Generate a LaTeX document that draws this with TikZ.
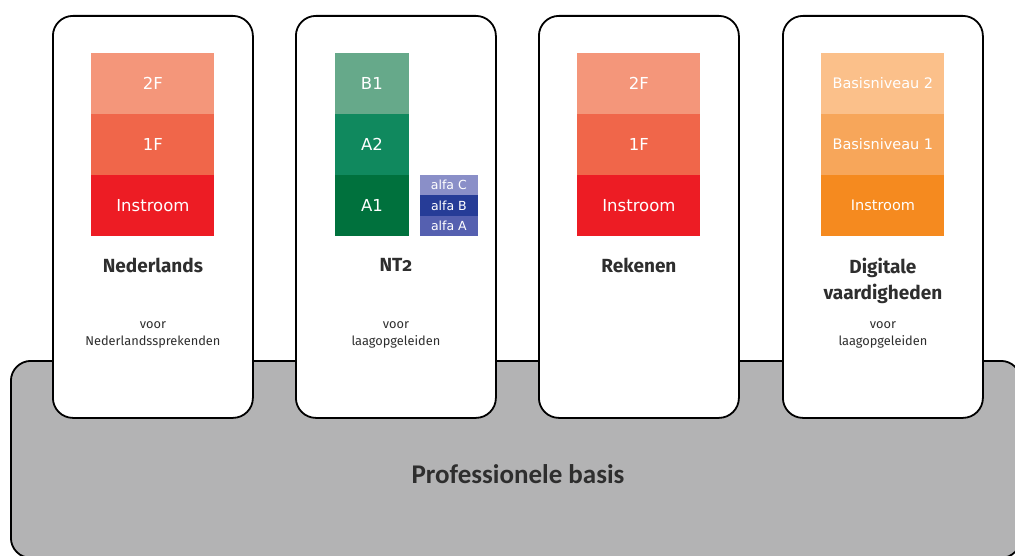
\documentclass[tikz,border=0pt]{standalone}
\usepackage{fontspec}
\usepackage{xcolor}
\setmainfont{Fira Sans}
\newfontfamily\levelfont{DejaVu Sans}
\newfontfamily\basefont{Carlito}
\usetikzlibrary{positioning}

\definecolor{base-gray}{HTML}{B3B3B4}
\definecolor{dark-text}{HTML}{2E2E2E}
\definecolor{red-top}{HTML}{F4967A}
\definecolor{red-mid}{HTML}{F0664A}
\definecolor{red-low}{HTML}{ED1C24}
\definecolor{green-top}{HTML}{66A98A}
\definecolor{green-mid}{HTML}{10895E}
\definecolor{green-low}{HTML}{00713D}
\definecolor{alfa-c}{HTML}{8A8FC8}
\definecolor{alfa-b}{HTML}{263C97}
\definecolor{alfa-a}{HTML}{5560B0}
\definecolor{orange-top}{HTML}{FBC08A}
\definecolor{orange-mid}{HTML}{F7A65A}
\definecolor{orange-low}{HTML}{F58A1F}

\tikzset{
    base-box/.style = {draw=black, fill=base-gray, line width=1.8pt, rounded corners=20pt, anchor=north west, minimum width=1010pt, minimum height=197pt, inner sep=0pt},
    base-title/.style = {font=\basefont\bfseries\fontsize{27}{27}\selectfont, text=dark-text},
    card-box/.style = {draw=black, fill=white, line width=1.8pt, rounded corners=20pt, anchor=north west, minimum width=200pt, minimum height=402pt, inner sep=0pt},
    level-box/.style = {minimum width=123pt, minimum height=61pt, inner sep=0pt, outer sep=0pt, text=white, font=\levelfont\fontsize{16.5}{16.5}\selectfont},
    green-box/.style = {level-box, minimum width=74pt},
    digi-box/.style = {level-box, font=\levelfont\fontsize{14.5}{14.5}\selectfont},
    alfa-box/.style = {minimum width=58pt, minimum height=20.33pt, inner sep=0pt, outer sep=0pt, text=white, font=\levelfont\fontsize{12.5}{12.5}\selectfont},
    card-title/.style = {font=\bfseries\fontsize{19}{26}\selectfont, text=dark-text, align=center, anchor=north, inner sep=0pt},
    card-note/.style = {font=\fontsize{12.8}{17}\selectfont, text=dark-text, align=center, anchor=north, inner sep=0pt},
}

\begin{document}
\begin{tikzpicture}[x=1pt, y=-1pt]
\useasboundingbox (0,0) rectangle (1015,556);

% professional base
\node [base-box] (base) at (10,360) {};
\node [base-title] (base-label) at (518,474) {Professionele basis};

% cards
\node [card-box] (nl-card) at (52,15) {};
\node [card-box] (nt-card) at (295,15) {};
\node [card-box] (rk-card) at (538,15) {};
\node [card-box] (dv-card) at (782,15) {};

% Nederlands
\node [level-box, fill=red-top, below=38pt of nl-card.north] (nl-2f) {2F};
\node [level-box, fill=red-mid, below=0pt of nl-2f] (nl-1f) {1F};
\node [level-box, fill=red-low, below=0pt of nl-1f] (nl-in) {Instroom};
\node [card-title, below=22pt of nl-in] (nl-title) {Nederlands};
\node [card-note, below=306pt of nl-card.north] (nl-note) {voor\\Nederlandssprekenden};

% NT2
\node [green-box, fill=green-top, below=38pt of nt-card.north, xshift=-24pt] (nt-b1) {B1};
\node [green-box, fill=green-mid, below=0pt of nt-b1] (nt-a2) {A2};
\node [green-box, fill=green-low, below=0pt of nt-a2] (nt-a1) {A1};
\node [alfa-box, fill=alfa-a, anchor=south west] (nt-alfa-a) at ([xshift=11pt]nt-a1.south east) {alfa A};
\node [alfa-box, fill=alfa-b, above=0pt of nt-alfa-a] (nt-alfa-b) {alfa B};
\node [alfa-box, fill=alfa-c, above=0pt of nt-alfa-b] (nt-alfa-c) {alfa C};
\node [card-title, below=22pt of nt-card.north |- nt-a1.south] (nt-title) {NT{\addfontfeatures{Numbers=OldStyle}2}};
\node [card-note, below=306pt of nt-card.north] (nt-note) {voor\\laagopgeleiden};

% Rekenen
\node [level-box, fill=red-top, below=38pt of rk-card.north] (rk-2f) {2F};
\node [level-box, fill=red-mid, below=0pt of rk-2f] (rk-1f) {1F};
\node [level-box, fill=red-low, below=0pt of rk-1f] (rk-in) {Instroom};
\node [card-title, below=22pt of rk-in] (rk-title) {Rekenen};

% Digitale vaardigheden
\node [digi-box, fill=orange-top, below=38pt of dv-card.north] (dv-b2) {Basisniveau 2};
\node [digi-box, fill=orange-mid, below=0pt of dv-b2] (dv-b1) {Basisniveau 1};
\node [digi-box, fill=orange-low, below=0pt of dv-b1] (dv-in) {Instroom};
\node [card-title, below=22pt of dv-in] (dv-title) {Digitale\\vaardigheden};
\node [card-note, below=306pt of dv-card.north] (dv-note) {voor\\laagopgeleiden};
\end{tikzpicture}
\end{document}
